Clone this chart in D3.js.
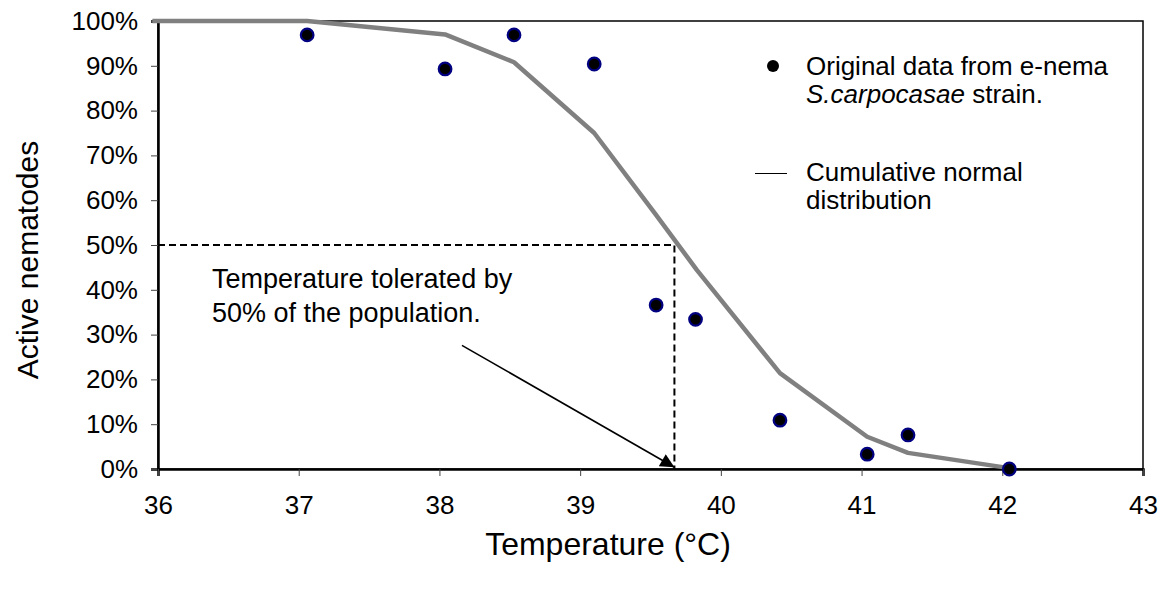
<!DOCTYPE html>
<html>
<head>
<meta charset="utf-8">
<script src="https://cdn.jsdelivr.net/npm/d3@7"></script>
<style>
  html, body { margin: 0; padding: 0; background: #fff; }
  svg { display: block; font-family: "Liberation Sans", Arial, sans-serif; }
</style>
</head>
<body>
<svg id="chart" width="1167" height="590"></svg>
<script>
// Observed activity of S. carpocapsae at each temperature
const tempObs   = [37.06, 38.04, 38.53, 39.10, 39.54, 39.82, 40.42, 41.04, 41.33, 42.05];
const activeObs = [96.9, 89.3, 96.9, 90.4, 36.6, 33.4, 10.9, 3.3, 7.6, 0.0];

// Fitted cumulative normal curve
const tempFit   = [35.96, 37.06, 38.04, 38.53, 39.10, 39.53, 39.83, 40.42, 41.04, 41.33, 42.05];
const activeFit = [100, 100, 97.0, 90.8, 75.0, 57.1, 44.4, 21.4, 7.2, 3.6, 0.2];

// Temperature tolerated by half the population
const lt50Temp = 39.67;
const lt50Active = 50;

const xTicks = [36, 37, 38, 39, 40, 41, 42, 43];
const yTicks = [0, 10, 20, 30, 40, 50, 60, 70, 80, 90, 100];

const svg = d3.select("#chart");
const plotLeft = 158, plotRight = 1143, plotTop = 21, plotBottom = 469;

const x = d3.scaleLinear().domain([36, 43]).range([plotLeft, plotRight]);
const y = d3.scaleLinear().domain([0, 100]).range([plotBottom, plotTop]);

// Frame around the plot area
svg.append("rect")
  .attr("x", plotLeft).attr("y", plotTop)
  .attr("width", plotRight - plotLeft).attr("height", plotBottom - plotTop)
  .attr("fill", "none").attr("stroke", "#000").attr("stroke-width", 1.5);

// Axes
const yAxis = svg.append("g")
  .attr("transform", `translate(${plotLeft},0)`)
  .call(d3.axisLeft(y).tickValues(yTicks).tickSize(7).tickPadding(13).tickFormat(d => d + "%"));
const xAxis = svg.append("g")
  .attr("transform", `translate(0,${plotBottom})`)
  .call(d3.axisBottom(x).tickValues(xTicks).tickSize(7).tickPadding(20).tickFormat(d3.format("d")));

[xAxis, yAxis].forEach(g => {
  g.select(".domain").attr("stroke", "#000").attr("stroke-width", 2.5);
  g.selectAll(".tick line").attr("stroke", "#444").attr("stroke-width", 1);
  g.selectAll(".tick text").attr("fill", "#000")
    .style("font-size", "26px").style("font-family", "'Liberation Sans', Arial, sans-serif");
});

// Axis titles
svg.append("text")
  .attr("x", 608).attr("y", 555)
  .attr("text-anchor", "middle")
  .style("font-size", "32px")
  .text("Temperature (°C)");

svg.append("text")
  .attr("transform", `translate(38,260) rotate(-90)`)
  .attr("text-anchor", "middle")
  .style("font-size", "30px")
  .text("Active nematodes");

// Dashed guides to the 50% point
svg.append("path")
  .attr("d", d3.line()([[x(36), y(lt50Active)], [x(lt50Temp), y(lt50Active)], [x(lt50Temp), y(0)]]))
  .attr("fill", "none").attr("stroke", "#000").attr("stroke-width", 2)
  .attr("stroke-dasharray", "7,4");

// Fitted curve
const line = d3.line().x(d => x(d[0])).y(d => y(d[1]));
svg.append("path")
  .datum(tempFit.map((t, i) => [t, activeFit[i]]))
  .attr("d", line)
  .attr("fill", "none").attr("stroke", "#808080").attr("stroke-width", 4.5)
  .attr("stroke-linejoin", "round");

// Observations
svg.append("g").selectAll("circle")
  .data(tempObs.map((t, i) => [t, activeObs[i]]))
  .join("circle")
  .attr("cx", d => x(d[0])).attr("cy", d => y(d[1]))
  .attr("r", 6.3)
  .attr("fill", "#000").attr("stroke", "#000080").attr("stroke-width", 2.2);

// Annotation arrow
const defs = svg.append("defs");
defs.append("marker")
  .attr("id", "arrowhead")
  .attr("viewBox", "0 0 10 10")
  .attr("refX", 10).attr("refY", 5)
  .attr("markerWidth", 16).attr("markerHeight", 14)
  .attr("markerUnits", "userSpaceOnUse")
  .attr("orient", "auto")
  .append("path").attr("d", "M0,0 L10,5 L0,10 Z").attr("fill", "#000");

const arrowFrom = [38.16, 27.6];
svg.append("line")
  .attr("x1", x(arrowFrom[0])).attr("y1", y(arrowFrom[1]))
  .attr("x2", x(lt50Temp)).attr("y2", y(0.4))
  .attr("stroke", "#000").attr("stroke-width", 1.6)
  .attr("marker-end", "url(#arrowhead)");

// Annotation text
const note = svg.append("text").style("font-size", "27px");
note.append("tspan").attr("x", 212).attr("y", 288).text("Temperature tolerated by");
note.append("tspan").attr("x", 212).attr("y", 322).text("50% of the population.");

// Legend
const legend = svg.append("g").style("font-size", "26px");
legend.append("circle").attr("cx", 773).attr("cy", 66).attr("r", 6).attr("fill", "#000");
legend.append("text").attr("x", 806).attr("y", 75).text("Original data from e-nema");
const l1b = legend.append("text").attr("x", 806).attr("y", 103);
l1b.append("tspan").style("font-style", "italic").text("S.carpocasae");
l1b.append("tspan").text(" strain.");

legend.append("line").attr("x1", 755).attr("x2", 787).attr("y1", 173.5).attr("y2", 173.5)
  .attr("stroke", "#000").attr("stroke-width", 1);
legend.append("text").attr("x", 806).attr("y", 181).text("Cumulative normal");
legend.append("text").attr("x", 806).attr("y", 209).text("distribution");
</script>
</body>
</html>
